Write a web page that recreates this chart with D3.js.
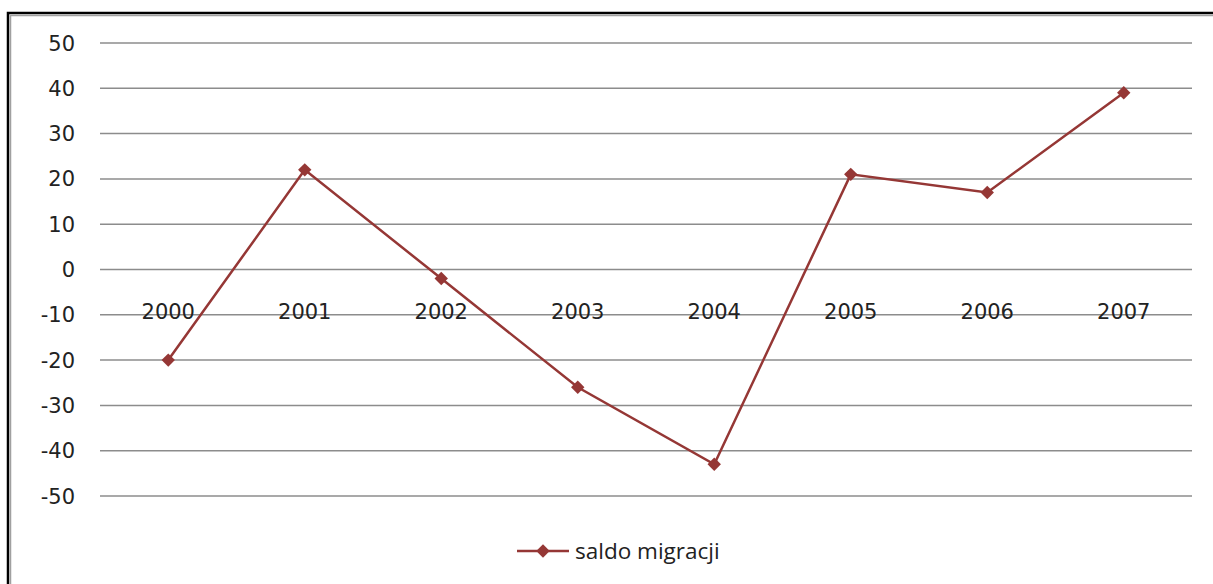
<!DOCTYPE html>
<html><head><meta charset="utf-8">
<script src="https://d3js.org/d3.v7.min.js"></script>
<style>html,body{margin:0;padding:0;background:#fff;overflow:hidden}</style>
</head><body>
<script>
const categories = ["2000","2001","2002","2003","2004","2005","2006","2007"];
const values = [-20, 22, -2, -26, -43, 21, 17, 39];
const yTicks = [50,40,30,20,10,0,-10,-20,-30,-40,-50];
const seriesName = "saldo migracji";

const W = 1213, H = 584;
const svg = d3.select("body").append("svg").attr("width", W).attr("height", H);

// frame
svg.append("rect").attr("x", 8).attr("y", 13).attr("width", W).attr("height", H)
  .attr("fill", "none").attr("stroke", "#000").attr("stroke-width", 2.5);
svg.append("rect").attr("x", 10.5).attr("y", 15.5).attr("width", W).attr("height", H)
  .attr("fill", "none").attr("stroke", "#a0a0a0").attr("stroke-width", 1.5);

const left = 100, right = 1192;
const y = d3.scaleLinear().domain([-50, 50]).range([496, 43]);
const x = d3.scaleBand().domain(categories).range([left, right]);
const font = "'DejaVu Sans', sans-serif";

// gridlines
svg.append("g").selectAll("line").data(yTicks).join("line")
  .attr("x1", left).attr("x2", right)
  .attr("y1", d => y(d)).attr("y2", d => y(d))
  .attr("stroke", "#8c8c8c").attr("stroke-width", 1.5);

// y labels
svg.append("g").selectAll("text").data(yTicks).join("text")
  .attr("x", 75).attr("y", d => y(d)).attr("dy", "0.36em")
  .attr("text-anchor", "end").attr("font-family", font).attr("font-size", 21)
  .attr("fill", "#222").text(d => d);

// category labels
svg.append("g").selectAll("text").data(categories).join("text")
  .attr("x", d => x(d) + x.bandwidth()/2).attr("y", y(0) + 42)
  .attr("dy", "0.36em").attr("text-anchor", "middle")
  .attr("font-family", font).attr("font-size", 21).attr("fill", "#222").text(d => d);

const color = "#953735";
const line = d3.line().x((d,i) => x(categories[i]) + x.bandwidth()/2).y(d => y(d));
svg.append("path").datum(values).attr("d", line)
  .attr("fill", "none").attr("stroke", color).attr("stroke-width", 2.5);

const diamond = d3.symbol().type(d3.symbolSquare).size(90);
svg.append("g").selectAll("path").data(values).join("path")
  .attr("d", diamond)
  .attr("transform", (d,i) => `translate(${x(categories[i]) + x.bandwidth()/2},${y(d)}) rotate(45)`)
  .attr("fill", color);

// legend
const lg = svg.append("g").attr("transform", "translate(517,551)");
lg.append("line").attr("x1", 0).attr("x2", 52).attr("y1", 0).attr("y2", 0)
  .attr("stroke", color).attr("stroke-width", 2.5);
lg.append("path").attr("d", diamond).attr("transform", "translate(26,0) rotate(45)").attr("fill", color);
lg.append("text").attr("x", 58).attr("y", 0).attr("dy", "0.36em")
  .attr("font-family", "'Open Sans', sans-serif").attr("font-size", 22.5).attr("fill", "#222").text(seriesName);
</script>
</body></html>
